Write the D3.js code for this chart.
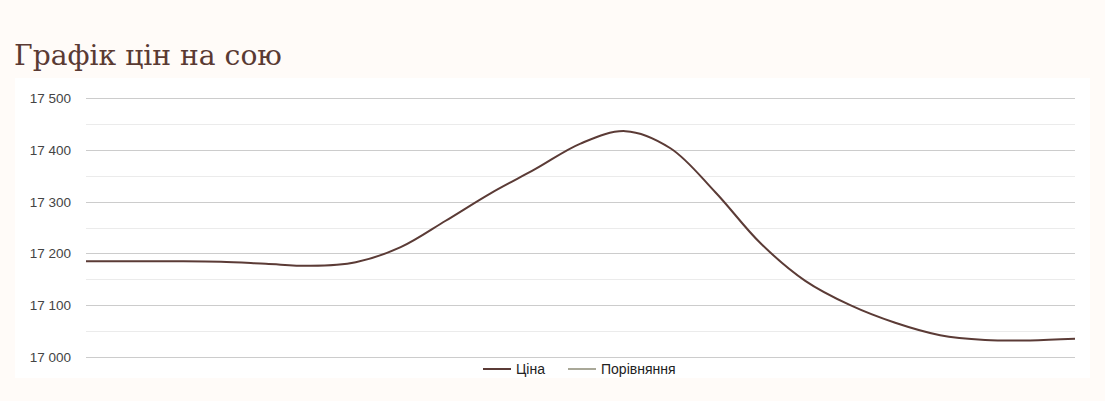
<!DOCTYPE html>
<html>
<head>
<meta charset="utf-8">
<script src="https://cdn.jsdelivr.net/npm/d3@7"></script>
<style>
  html, body { margin: 0; padding: 0; background: #fffbf8; }
  svg { display: block; }
</style>
</head>
<body>
<svg id="chart" width="1105" height="401"></svg>
<script>
const title = "Графік цін на сою";
const seriesNames = ["Ціна", "Порівняння"];
const seriesColors = ["#5b3b36", "#a9a898"];
const priceValues = [17185, 17185, 17185, 17184, 17180, 17176, 17183, 17212, 17263, 17316,
                     17363, 17412, 17436, 17403, 17318, 17220, 17147, 17100, 17066, 17042,
                     17033, 17032, 17035];
const yTicks = [17000, 17100, 17200, 17300, 17400, 17500];
const yMinorTicks = [17050, 17150, 17250, 17350, 17450];

const svg = d3.select("#chart");
const W = 1105, H = 401;

svg.append("rect").attr("x", 0).attr("y", 0).attr("width", W).attr("height", H).attr("fill", "#fffbf8");
svg.append("rect").attr("x", 15).attr("y", 78).attr("width", 1075).attr("height", 300).attr("fill", "#ffffff");

svg.append("text")
  .attr("x", 14).attr("y", 65)
  .attr("font-family", "'DejaVu Serif', serif")
  .attr("font-size", 28.2)
  .attr("fill", "#5a3a33")
  .text(title);

const x = d3.scaleLinear().domain([0, priceValues.length - 1]).range([86, 1075]);
const y = d3.scaleLinear().domain([17000, 17500]).range([357, 98]);

const grid = svg.append("g");
grid.selectAll("line.minor").data(yMinorTicks).join("line")
  .attr("class", "minor")
  .attr("x1", 86).attr("x2", 1075)
  .attr("y1", d => Math.round(y(d)) + 0.5).attr("y2", d => Math.round(y(d)) + 0.5)
  .attr("stroke", "#ebebeb").attr("stroke-width", 1);
grid.selectAll("line.major").data(yTicks).join("line")
  .attr("class", "major")
  .attr("x1", 86).attr("x2", 1075)
  .attr("y1", d => Math.round(y(d)) + 0.5).attr("y2", d => Math.round(y(d)) + 0.5)
  .attr("stroke", "#cccccc").attr("stroke-width", 1);

const fmt = d => d3.format(",")(d).replace(/,/g, " ");
svg.append("g").selectAll("text").data(yTicks).join("text")
  .attr("x", 71).attr("y", d => y(d) + 5)
  .attr("text-anchor", "end")
  .attr("font-family", "'Liberation Sans', Arial, sans-serif")
  .attr("font-size", 13.5)
  .attr("fill", "#444444")
  .text(fmt);

const line = d3.line()
  .x((d, i) => x(i))
  .y(d => y(d))
  .curve(d3.curveCatmullRom.alpha(0.5));

svg.append("path")
  .datum(priceValues)
  .attr("d", line)
  .attr("fill", "none")
  .attr("stroke", seriesColors[0])
  .attr("stroke-width", 2);

// legend
const legendItems = [
  { name: seriesNames[0], color: seriesColors[0], x: 483 },
  { name: seriesNames[1], color: seriesColors[1], x: 568 }
];
const lg = svg.append("g");
legendItems.forEach(it => {
  lg.append("line")
    .attr("x1", it.x).attr("x2", it.x + 28)
    .attr("y1", 369).attr("y2", 369)
    .attr("stroke", it.color).attr("stroke-width", 2);
  lg.append("text")
    .attr("x", it.x + 33).attr("y", 374)
    .attr("font-family", "'Liberation Sans', Arial, sans-serif")
    .attr("font-size", 14)
    .attr("fill", "#222222")
    .text(it.name);
});
</script>
</body>
</html>
